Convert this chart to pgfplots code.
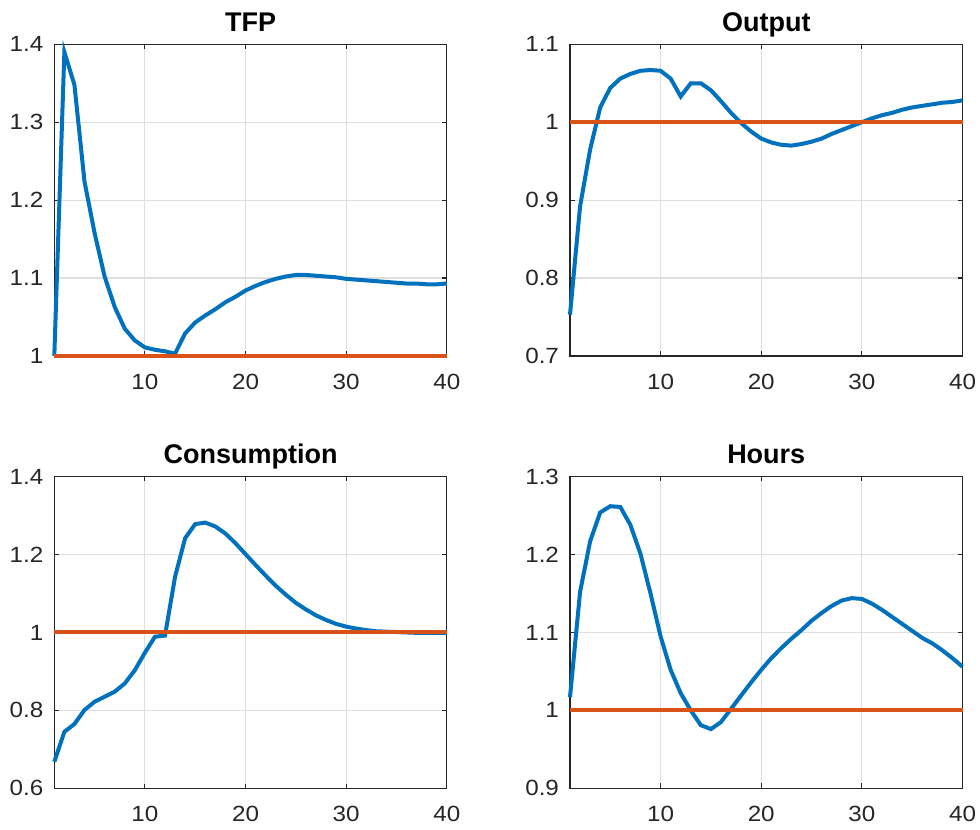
\documentclass[border=0pt]{standalone}
\usepackage{fontspec}
\setmainfont{Liberation Sans}
\newfontfamily\tickfont[FakeStretch=1.1]{Liberation Sans}
\usepackage{pgfplots}
\pgfplotsset{compat=1.18}
\definecolor{mblue}{rgb}{0,0.447,0.741}
\definecolor{morange}{rgb}{0.85,0.325,0.098}
\definecolor{axgray}{rgb}{0.15,0.15,0.15}
\definecolor{gridgray}{RGB}{223,223,223}
\pgfplotsset{panel/.style={
  scale only axis, width=196.25pt, height=155.85pt,
  xmin=1, xmax=40, xtick={10,20,30,40},
  grid=major, major grid style={gridgray, line width=0.6pt},
  axis line style={axgray, line width=0.6pt},
  tick style={axgray, line width=0.6pt},
  major tick length=2.4pt,
  tick align=inside,
  ticklabel style={font=\tickfont\fontsize{11}{13}\selectfont, text=axgray},
  xticklabel style={yshift=-5.5pt},
  yticklabel style={xshift=-2pt},
  /pgf/number format/assume math mode=true,
  every axis title shift=0pt,
  title style={font=\bfseries\fontsize{13.5}{15}\selectfont, at={(0.5,1)}, anchor=base, yshift=6.6pt},
  clip=false,
  anchor=south west,
}}
\begin{document}
\begin{tikzpicture}
\useasboundingbox (0,0) rectangle (490pt,415pt);
% TFP
\begin{axis}[panel, at={(27.15pt,237pt)}, title={TFP}, ymin=1, ymax=1.4, ytick={1,1.1,1.2,1.3,1.4}]
\addplot[mblue, line width=2pt] coordinates {
(1,1.000) (2,1.390) (3,1.348) (4,1.224) (5,1.158) (6,1.102) (7,1.063) (8,1.035) (9,1.020) (10,1.011)
(11,1.008) (12,1.006) (13,1.003) (14,1.029) (15,1.043) (16,1.052) (17,1.060) (18,1.069) (19,1.076) (20,1.084)
(21,1.090) (22,1.095) (23,1.099) (24,1.102) (25,1.104) (26,1.104) (27,1.103) (28,1.102) (29,1.101) (30,1.099)
(31,1.098) (32,1.097) (33,1.096) (34,1.095) (35,1.094) (36,1.093) (37,1.093) (38,1.092) (39,1.092) (40,1.093)};
\addplot[morange, line width=2pt] coordinates {(1,1) (40,1)};
\end{axis}
% Output
\begin{axis}[panel, at={(285pt,237pt)}, title={Output}, ymin=0.7, ymax=1.1, ytick={0.7,0.8,0.9,1,1.1}]
\addplot[mblue, line width=2pt] coordinates {
(1,0.753) (2,0.892) (3,0.965) (4,1.019) (5,1.044) (6,1.056) (7,1.062) (8,1.066) (9,1.067) (10,1.066)
(11,1.056) (12,1.033) (13,1.050) (14,1.050) (15,1.041) (16,1.027) (17,1.012) (18,0.999) (19,0.988) (20,0.979)
(21,0.974) (22,0.971) (23,0.970) (24,0.972) (25,0.975) (26,0.979) (27,0.985) (28,0.990) (29,0.995) (30,1.000)
(31,1.005) (32,1.009) (33,1.012) (34,1.016) (35,1.019) (36,1.021) (37,1.023) (38,1.025) (39,1.026) (40,1.028)};
\addplot[morange, line width=2pt] coordinates {(1,1) (40,1)};
\end{axis}
% Consumption
\begin{axis}[panel, at={(27.15pt,20.85pt)}, title={Consumption}, ymin=0.6, ymax=1.4, ytick={0.6,0.8,1,1.2,1.4}]
\addplot[mblue, line width=2pt] coordinates {
(1,0.668) (2,0.745) (3,0.765) (4,0.801) (5,0.822) (6,0.835) (7,0.848) (8,0.869) (9,0.903) (10,0.948)
(11,0.989) (12,0.992) (13,1.143) (14,1.242) (15,1.278) (16,1.282) (17,1.272) (18,1.254) (19,1.229) (20,1.201)
(21,1.173) (22,1.146) (23,1.120) (24,1.097) (25,1.076) (26,1.059) (27,1.044) (28,1.032) (29,1.022) (30,1.015)
(31,1.010) (32,1.006) (33,1.003) (34,1.002) (35,1.001) (36,1.000) (37,0.999) (38,0.999) (39,0.999) (40,0.999)};
\addplot[morange, line width=2pt] coordinates {(1,1) (40,1)};
\end{axis}
% Hours
\begin{axis}[panel, at={(285pt,20.85pt)}, title={Hours}, ymin=0.9, ymax=1.3, ytick={0.9,1,1.1,1.2,1.3}]
\addplot[mblue, line width=2pt] coordinates {
(1,1.017) (2,1.152) (3,1.217) (4,1.254) (5,1.262) (6,1.261) (7,1.238) (8,1.201) (9,1.150) (10,1.095)
(11,1.052) (12,1.022) (13,1.000) (14,0.981) (15,0.976) (16,0.985) (17,1.002) (18,1.019) (19,1.036) (20,1.052)
(21,1.067) (22,1.080) (23,1.092) (24,1.103) (25,1.115) (26,1.125) (27,1.134) (28,1.141) (29,1.144) (30,1.143)
(31,1.137) (32,1.129) (33,1.120) (34,1.111) (35,1.102) (36,1.093) (37,1.086) (38,1.077) (39,1.067) (40,1.056)};
\addplot[morange, line width=2pt] coordinates {(1,1) (40,1)};
\end{axis}
\end{tikzpicture}
\end{document}
